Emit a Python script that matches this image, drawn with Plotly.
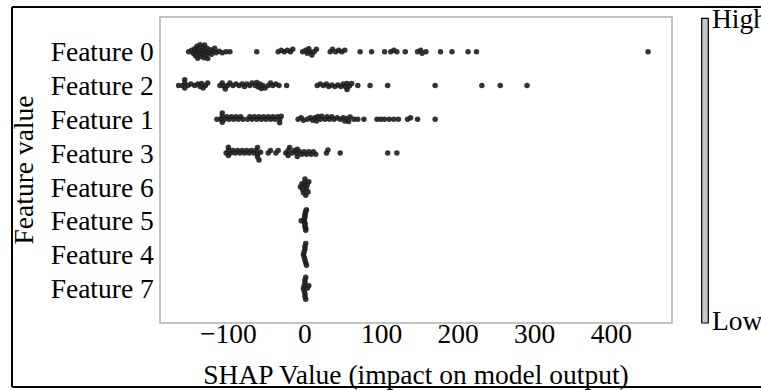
import numpy as np
import plotly.graph_objects as go

# ---------------- data ----------------
# rows listed bottom -> top (SHAP order: most important on top)
features = ["Feature 7", "Feature 4", "Feature 5", "Feature 6",
            "Feature 3", "Feature 1", "Feature 2", "Feature 0"]

shap_f0 = [-152, -148, -146, -144, -143, -142, -141, -140, -139, -138, -137, -136,
           -135, -134, -133, -132, -131, -130, -129, -128, -127, -126, -124, -122,
           -120, -118, -116, -112, -108, -103, -98, -63,
           -35, -31, -27, -23, -19, -16, -3, 1, 3, 5, 7, 9, 12, 15,
           33, 36, 40, 44, 48, 52, 72, 87, 104, 112, 116, 120, 131,
           147, 151, 153, 158, 177, 192, 213, 224, 448]
shap_f2 = [-165, -160, -157, -157, -157, -153, -149, -144, -140, -137, -135, -133,
           -130, -127, -111, -108, -106, -104, -101, -98, -94, -90, -86, -82, -79,
           -76, -72, -69, -65, -63, -61, -59, -57, -55, -52, -48, -45, -42, -38,
           -34, -24, 16, 20, 24, 28, 31, 35, 39, 43, 47, 50, 53, 55, 55, 58, 61,
           69, 85, 108, 170, 231, 255, 290]
shap_f1 = [-115, -110, -108, -108, -108, -105, -102, -99, -96, -93, -90, -87, -84,
           -81, -75, -72, -69, -66, -63, -60, -57, -54, -51, -48, -45, -42, -39,
           -36, -33, -33, -31, -9, -5, -2, 3, 7, 10, 13, 15, 17, 20, 22, 26, 29,
           32, 35, 38, 42, 46, 50, 52, 55, 57, 59, 64, 69, 77,
           94, 99, 104, 110, 116, 122, 134, 138, 147, 170]
shap_f3 = [-103, -100, -100, -100, -97, -94, -91, -88, -85, -82, -79, -76, -73,
           -70, -67, -64, -62, -62, -62, -60, -58, -48, -45, -38, -35,
           -25, -22, -22, -20, -17, -14, -11, -10, -10, -7, -4, -1, 2, 5, 8, 11,
           14, 28, 30, 46, 108, 120]
shap_f6 = [-6, -4, -3, -2, -1, 0, 0, 1, 2, 3, 4, 5]
shap_f5 = [-5, -1, -1, -0.5, 0, 0, 0, 0, 0.5, 1, 1, 1, 2, 0]
shap_f4 = [-2, -1, -1, 0, 0, 0, 1, 1, 2]
shap_f7 = [-2, -1, -1, 0, 0, 0, 0, 1, 1, 3, 5]

shap_by_feature = {
    "Feature 0": shap_f0, "Feature 2": shap_f2, "Feature 1": shap_f1,
    "Feature 3": shap_f3, "Feature 6": shap_f6, "Feature 5": shap_f5,
    "Feature 4": shap_f4, "Feature 7": shap_f7,
}

x_ticks = [-100, 0, 100, 200, 300, 400]
x_range = [-188, 478]
y_range = [-1, 8]

# ---------------- layout geometry ----------------
W, H = 761, 390
ML, MR, MT, MB = 161, 90, 18, 68
PW, PH = W - ML - MR, H - MT - MB
px_per_unit = PW / (x_range[1] - x_range[0])
px_per_row = PH / (y_range[1] - y_range[0])


def swarm(vals, d=3.4, cap=11.0):
    """Deterministic beeswarm offsets (in row units) computed from values."""
    vals = np.asarray(vals, float)
    xs = vals * px_per_unit
    order = np.argsort(vals, kind="stable")
    placed = []
    ys = np.zeros(len(vals))
    for i in order:
        x = xs[i]
        near = [(px, py) for px, py in placed if abs(px - x) < d]
        cands = [0.0]
        for px, py in near:
            h = np.sqrt(d * d - (px - x) ** 2)
            cands += [py + h, py - h]
        cands.sort(key=lambda c: (round(abs(c), 6), -c))
        for c in cands:
            if all((px - x) ** 2 + (py - c) ** 2 >= d * d - 1e-6 for px, py in near):
                ys[i] = c
                break
        placed.append((x, ys[i]))
    m = np.abs(ys).max()
    if m > cap:
        ys *= cap / m
    return ys / px_per_row


fig = go.Figure()
for row, name in enumerate(features):
    vals = shap_by_feature[name]
    offs = swarm(vals)
    fig.add_trace(go.Scatter(
        x=vals, y=row + offs, mode="markers", name=name, showlegend=False,
        marker=dict(size=5.5, color="#1e1e1e", opacity=0.9, line=dict(width=0)),
        hoverinfo="x+name",
    ))

font = "Liberation Serif, Times New Roman, serif"
FS = 27.5
axis_common = dict(
    showline=True, mirror=True, linecolor="#c4c4c4", linewidth=1.5,
    showgrid=False, zeroline=False, ticks="", automargin=False,
    tickfont=dict(family=font, size=FS, color="black"),
)

fig.update_layout(
    template="none",
    width=W, height=H,
    margin=dict(l=ML, r=MR, t=MT, b=MB, pad=0, autoexpand=False),
    paper_bgcolor="white", plot_bgcolor="white",
    xaxis=dict(range=x_range, tickvals=x_ticks,
               ticktext=[f"\u2212{abs(v)}" if v < 0 else str(v) for v in x_ticks],
               ticklabelstandoff=-14,
               title=dict(text="SHAP Value (impact on model output)",
                          font=dict(family=font, size=FS, color="black"), standoff=22),
               **axis_common),
    yaxis=dict(range=y_range, tickvals=list(range(len(features))), ticktext=features,
               title=dict(text="Feature value",
                          font=dict(family=font, size=FS, color="black"), standoff=9),
               **axis_common),
    font=dict(family=font, size=FS, color="black"),
)

# colour bar (grey strip) and its labels
fig.add_shape(type="rect", xref="paper", yref="paper",
              x0=(701.7 - ML) / PW, x1=(708.3 - ML) / PW,
              y0=(PH + MT - 323) / PH, y1=(PH + MT - 18.3) / PH,
              fillcolor="#c8c8c8", line=dict(color="black", width=1.2))
fig.add_annotation(text="High", xref="paper", yref="paper",
                   x=(710 - ML) / PW, y=(PH + MT - 19) / PH,
                   xanchor="left", yanchor="middle", showarrow=False,
                   font=dict(family=font, size=FS, color="black"))
fig.add_annotation(text="Low", xref="paper", yref="paper",
                   x=(710 - ML) / PW, y=(PH + MT - 320) / PH,
                   xanchor="left", yanchor="middle", showarrow=False,
                   font=dict(family=font, size=FS, color="black"))

# outer figure frame (left, top, bottom edges; right edge lies outside the crop)
fx0, fx1 = (12 - ML) / PW, (W + 5 - ML) / PW
fy0, fy1 = (PH + MT - 387) / PH, (PH + MT - 7) / PH
for x0, y0, x1, y1 in [(fx0, fy0, fx0, fy1), (fx0, fy1, fx1, fy1), (fx0, fy0, fx1, fy0)]:
    fig.add_shape(type="line", xref="paper", yref="paper",
                  x0=x0, y0=y0, x1=x1, y1=y1, line=dict(color="black", width=2))

fig.write_html("out.html")
